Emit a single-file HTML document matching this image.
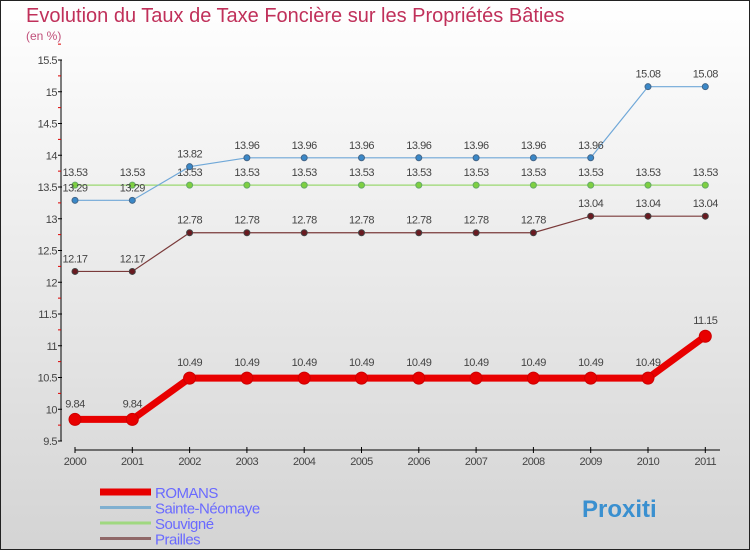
<!DOCTYPE html>
<html><head><meta charset="utf-8"><style>
body{margin:0}
#c{position:relative;width:750px;height:550px;box-sizing:border-box;border:1px solid #222;background:linear-gradient(#fff,#d4d4d4);font-family:"Liberation Sans",sans-serif;overflow:hidden}
</style></head><body>
<div id="c">
<svg id="s" width="750" height="550" style="position:absolute;left:-1px;top:-1px">
<text x="26" y="22" font-size="20" fill="#c0305a">Evolution du Taux de Taxe Foncière sur les Propriétés Bâties</text>
<text x="26" y="40" font-size="12" fill="#c0507a">(en %)</text>
<g id="g"></g>
</svg>
</div>
<script>
const years=['2000','2001','2002','2003','2004','2005','2006','2007','2008','2009','2010','2011'];
const romans=[9.84,9.84,10.49,10.49,10.49,10.49,10.49,10.49,10.49,10.49,10.49,11.15];
const sainte=[13.29,13.29,13.82,13.96,13.96,13.96,13.96,13.96,13.96,13.96,15.08,15.08];
const souvigne=[13.53,13.53,13.53,13.53,13.53,13.53,13.53,13.53,13.53,13.53,13.53,13.53];
const prailles=[12.17,12.17,12.78,12.78,12.78,12.78,12.78,12.78,12.78,13.04,13.04,13.04];
const yTicks=[9.5,10,10.5,11,11.5,12,12.5,13,13.5,14,14.5,15,15.5];
const ns='http://www.w3.org/2000/svg',g=document.getElementById('g');
const X=i=>75+i*57.3, Y=v=>441-(v-9.5)*63.5;
function el(t,a,p){const e=document.createElementNS(ns,t);for(const k in a)e.setAttribute(k,a[k]);(p||g).appendChild(e);return e;}
let ax=el('line',{x1:61,y1:60,x2:61,y2:441,stroke:'#000'});


yTicks.forEach(v=>{el('line',{x1:58,y1:Y(v),x2:62,y2:Y(v),stroke:'#000'});
el('line',{x1:58,y1:Y(v+0.25),x2:61,y2:Y(v+0.25),stroke:'#d00'});
const t=el('text',{x:57,y:Y(v)+4,'text-anchor':'end','font-size':11,fill:'#444','letter-spacing':'-0.5'});t.textContent=String(v);

});
let xa=el('line',{x1:75,y1:450,x2:720,y2:450,stroke:'#000'});


years.forEach((y,i)=>{el('line',{x1:X(i),y1:447,x2:X(i),y2:453,stroke:'#000'});
const t=el('text',{x:X(i),y:465,'text-anchor':'middle','font-size':11,fill:'#444','letter-spacing':'-0.5'});t.textContent=y;

});
function series(d,col,dot,w,r,name,lc){
const p=el('polyline',{points:d.map((v,i)=>X(i)+','+Y(v)).join(' '),fill:'none',stroke:col,'stroke-width':w});


d.forEach((v,i)=>{const c=el('circle',{cx:X(i),cy:Y(v),r:r,fill:dot,stroke:lc,'stroke-width':1});


const t=el('text',{x:X(i),y:Y(v)-(r+6),'text-anchor':'middle','font-size':11,fill:'#444','letter-spacing':'-0.5'});t.textContent=String(v);

});}
series(prailles,'#7a3a3a','#6a1a20',1.2,3,'prailles','#444');
series(souvigne,'#9ad870','#7ed040',1.2,3,'souvigne','#6a6');
series(sainte,'#70a8d8','#3a88c8',1.2,3,'sainte-neomaye','#468');
series(romans,'#e80000','#e80000',7,6,'romans','#c00');
const legs=[['ROMANS','#e80000',7],['Sainte-Néomaye','#80b0d0',3],['Souvigné','#a0d880',3],['Prailles','#906868',3]];
legs.forEach((l,i)=>{const y=492+i*15.5;
el('line',{x1:100,y1:y,x2:151,y2:y,stroke:l[1],'stroke-width':l[2]});
const t=el('text',{x:155,y:y+6,'font-size':15,fill:'#6a6aff','letter-spacing':'-0.5'});t.textContent=l[0];

});
const lg=el('text',{x:582,y:517,'font-size':24,'font-weight':'bold',fill:'#3a90d0'});lg.textContent='Proxiti';


</script>
</body></html>
